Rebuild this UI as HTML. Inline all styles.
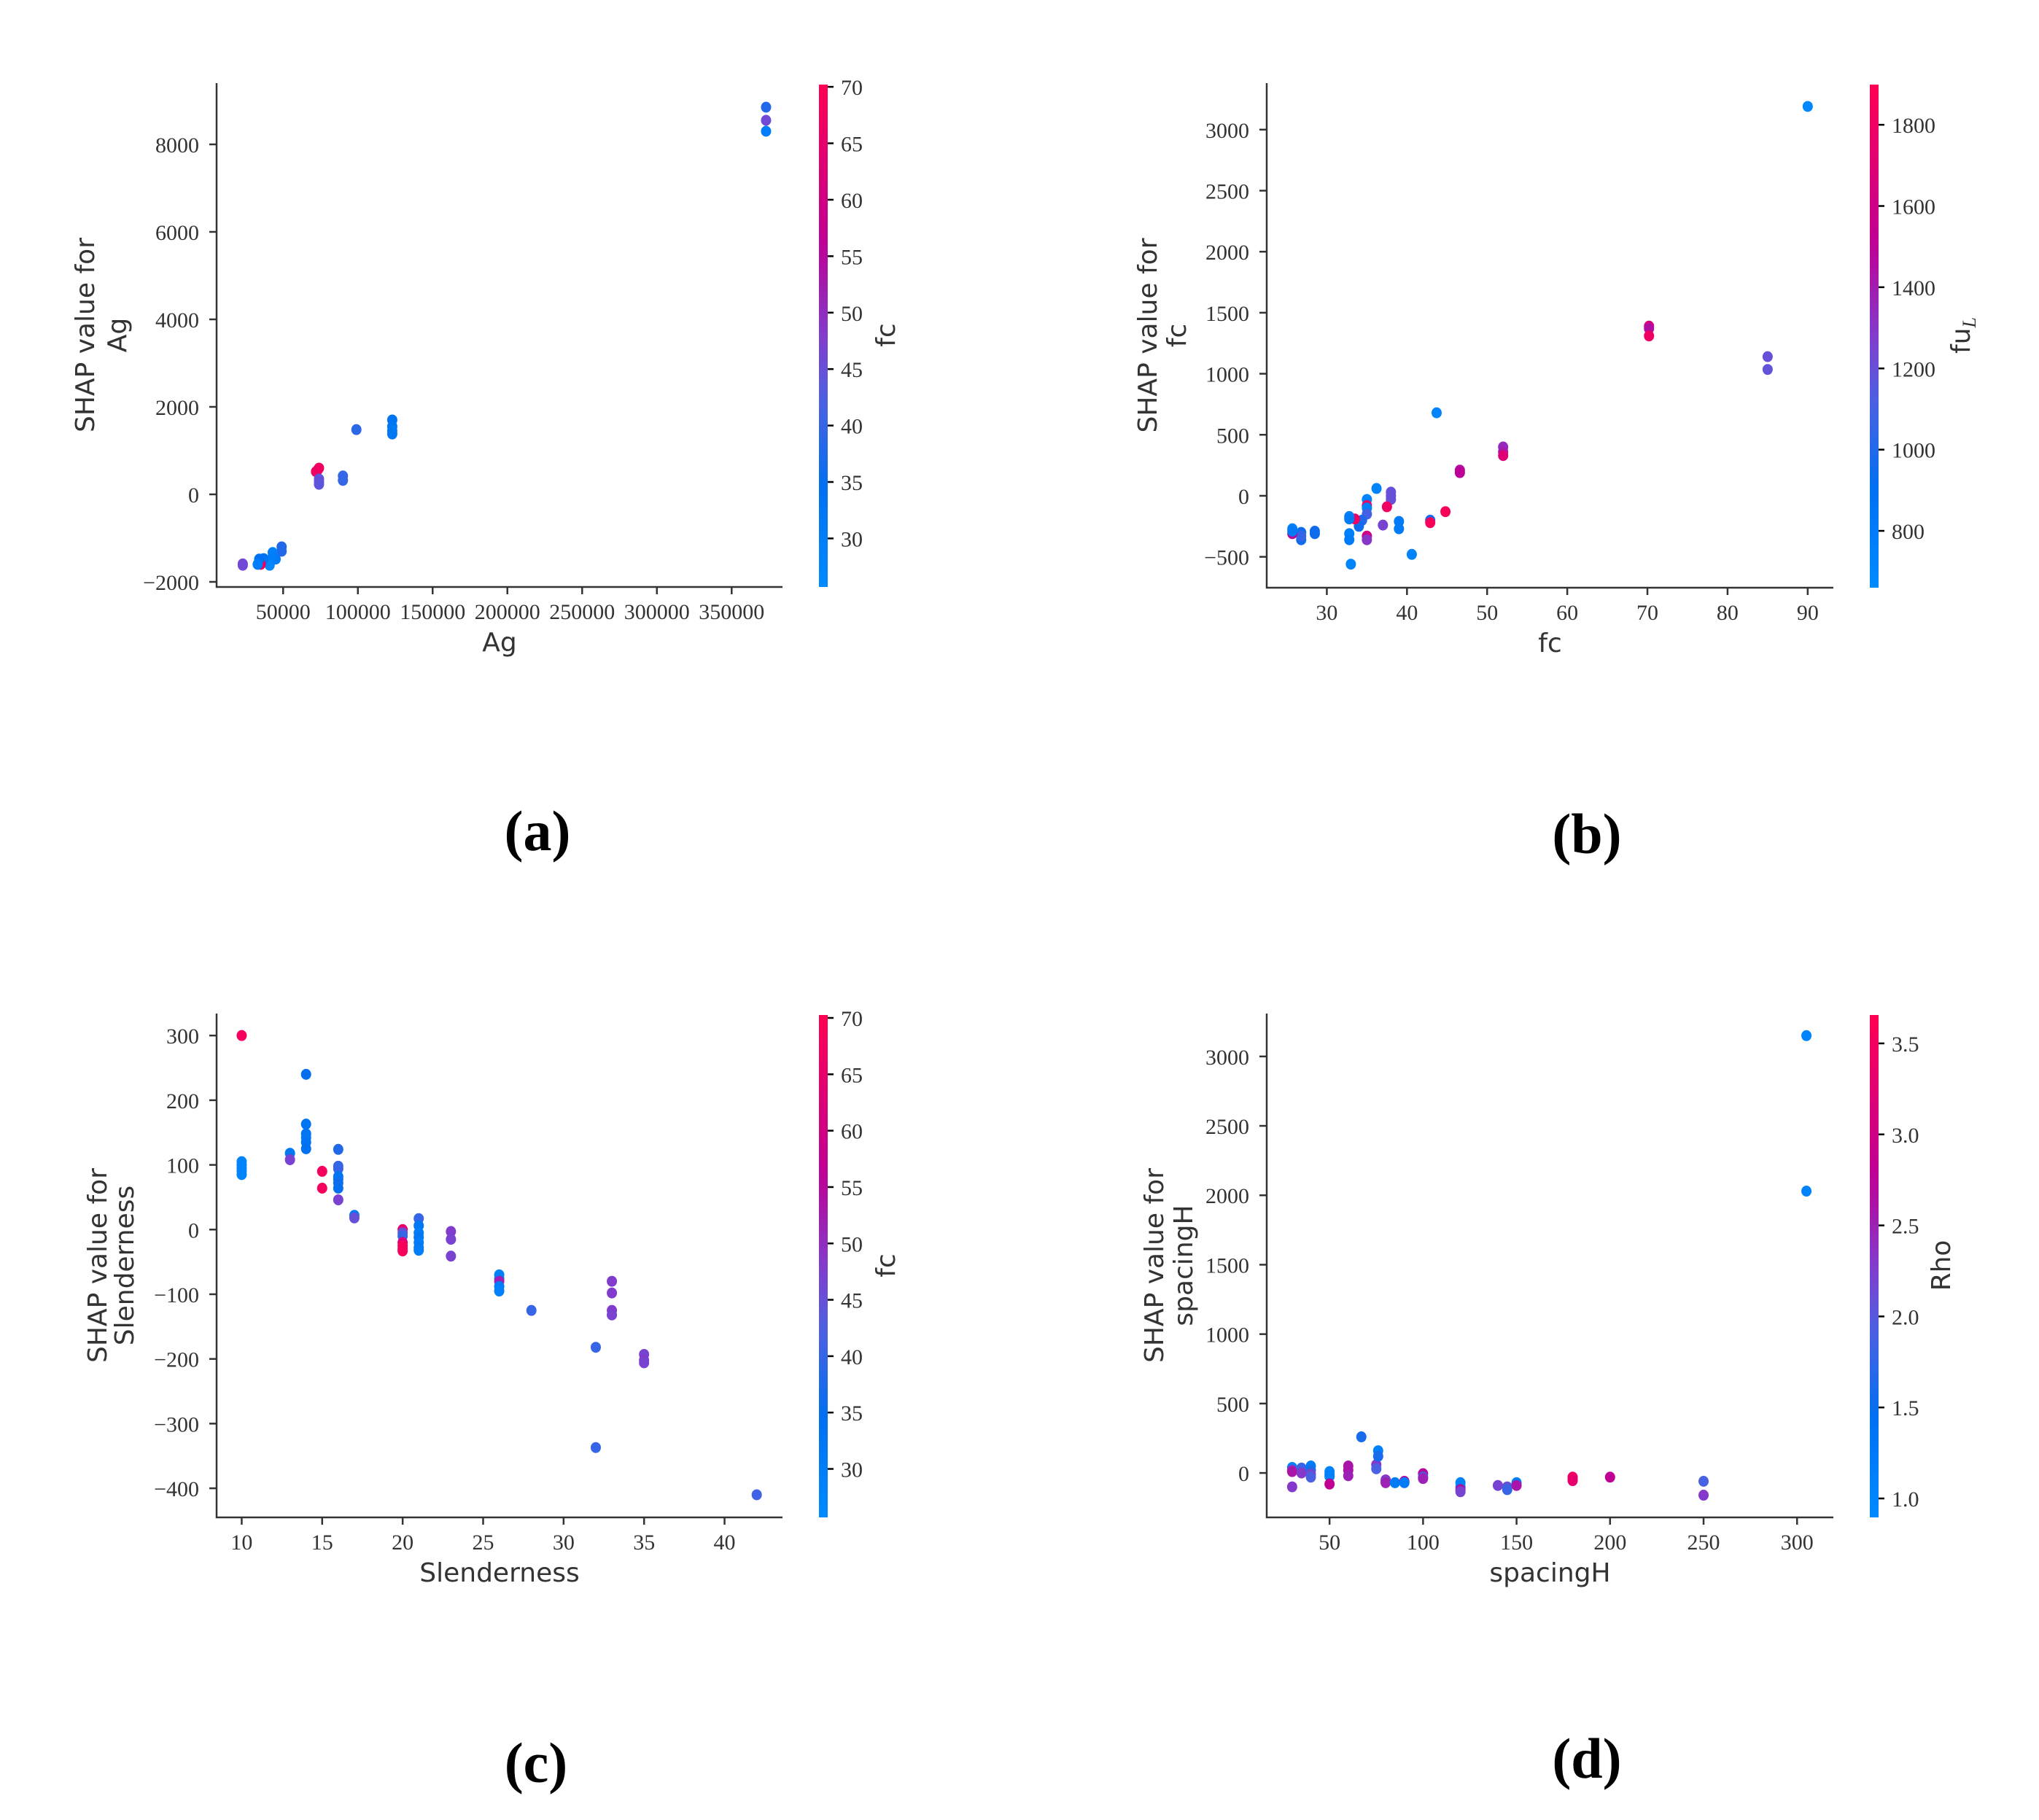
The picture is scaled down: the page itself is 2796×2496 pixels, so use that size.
<!DOCTYPE html>
<html><head><meta charset="utf-8"><style>
html,body{margin:0;padding:0;background:#fff;}
svg{display:block;}
.tk{font-family:"Liberation Serif",serif;font-size:30px;fill:#333;}
.lb{font-family:"DejaVu Sans","Liberation Sans",sans-serif;font-size:36px;fill:#333;}
.cap{font-family:"Liberation Serif",serif;font-size:78px;font-weight:bold;fill:#000;}
</style></head><body>
<svg id="fig" width="2796" height="2496" viewBox="0 0 2796 2496" xmlns="http://www.w3.org/2000/svg"></svg>
<script>
// ---- Panel (a): Ag ----
const aX=[373000,373000,373000,123000,123000,123000,123000,99000,90000,90000,73000,72000,74000,74000,74000,74000,49000,49000,45000,43000,43000,41000,37000,35000,34000,33000,23000,23000];
const aY=[8850,8550,8300,1700,1550,1450,1380,1480,420,320,550,520,600,350,280,230,-1200,-1300,-1480,-1330,-1430,-1620,-1470,-1600,-1480,-1600,-1590,-1620];
const aC=[38,46,30,33,32,31,32,39,40,40,68,66,67,44,45,44,38,38,31,29,30,27,33,67,34,30,46,46];
const aXTicks=[50000,100000,150000,200000,250000,300000,350000];
const aYTicks=[-2000,0,2000,4000,6000,8000];
const aCTicks=[30,35,40,45,50,55,60,65,70];
// ---- Panel (b): fc ----
const bX=[90,85,85,70.2,70.2,70.2,52,52,52,46.6,46.6,43.7,44.8,42.9,42.9,40.6,39,39,38,38,38,37.5,37,36.2,35,35,35,35,35,35,34.4,34,33.5,32.8,32.8,32.8,32.8,33,28.5,28.5,26.8,26.8,26.8,25.7,25.7,25.7];
const bY=[3190,1140,1035,1390,1370,1310,400,360,330,210,190,680,-130,-200,-220,-480,-210,-270,30,0,-30,-90,-240,60,-30,-80,-100,-150,-330,-360,-200,-250,-190,-170,-190,-310,-360,-560,-290,-310,-300,-360,-330,-270,-310,-290];
const bC=[700,1200,1180,1650,1450,1800,1350,1400,1700,1450,1500,720,1850,950,1850,720,800,800,1200,1200,1200,1800,1250,720,720,1800,750,1100,1600,1300,1000,950,1800,750,800,750,800,720,950,950,950,950,1050,750,1500,800];
const bXTicks=[30,40,50,60,70,80,90];
const bYTicks=[-500,0,500,1000,1500,2000,2500,3000];
const bCTicks=[800,1000,1200,1400,1600,1800];
// ---- Panel (c): Slenderness ----
const cX=[10,10,10,10,10,10,13,13,14,14,14,14,14,14,15,15,16,16,16,16,16,16,16,16,17,17,20,20,20,20,20,20,20,21,21,21,21,21,21,21,23,23,23,26,26,26,26,26,28,32,32,33,33,33,33,35,35,35,42];
const cY=[300,105,100,95,90,85,118,108,240,163,148,142,135,125,90,64,124,98,94,82,78,72,64,46,22,18,0,-5,-10,-20,-25,-30,-33,17,6,-5,-12,-20,-28,-32,-3,-15,-41,-70,-76,-80,-88,-95,-125,-182,-337,-80,-98,-125,-132,-193,-202,-206,-410];
const cC=[68,28,28,28,28,28,32,47,35,33,33,32,33,34,68,68,38,40,40,33,33,36,35,47,32,45,65,45,40,62,68,68,68,40,32,30,32,30,32,30,48,47,47,29,30,52,30,29,40,40,40,48,48,48,47,47,48,47,41];
const cXTicks=[10,15,20,25,30,35,40];
const cYTicks=[-400,-300,-200,-100,0,100,200,300];
const cCTicks=[30,35,40,45,50,55,60,65,70];
// ---- Panel (d): spacingH ----
const dX=[305,305,30,30,30,30,35,35,40,40,40,40,50,50,50,50,60,60,60,67,75,75,76,76,80,80,80,85,90,90,100,100,100,120,120,120,120,140,145,145,150,150,150,180,180,180,200,250,250];
const dY=[3150,2030,40,20,10,-100,35,0,50,20,-10,-30,10,-10,-25,-80,50,20,-20,260,60,30,160,120,-50,-60,-70,-70,-60,-70,-5,-30,-40,-70,-100,-120,-135,-90,-100,-120,-70,-80,-90,-30,-45,-55,-30,-60,-160];
const dC=[1.05,1.05,1.05,2.3,2.6,2.3,1.8,2.3,1.2,1.6,2.2,1.9,1.05,1.05,1.1,2.8,2.6,2.6,2.5,1.6,2.3,1.9,1.1,1.6,2.4,2.2,2.5,1.2,2.7,1.2,2.7,1.8,2.5,1.05,1.1,2.7,2.2,2.2,2.1,1.8,1.1,1.2,2.6,3.4,3.5,3.3,2.8,1.9,2.3];
const dXTicks=[50,100,150,200,250,300];
const dYTicks=[0,500,1000,1500,2000,2500,3000];
const dCTicks=[1.0,1.5,2.0,2.5,3.0,3.5];

const NS="http://www.w3.org/2000/svg";
const svg=document.getElementById('fig');
const stops=[[0,[0,138,255]],[0.2,[0,112,240]],[0.38,[80,95,225]],[0.5,[130,60,205]],[0.68,[190,0,150]],[1,[255,0,82]]];
function cmap(t){t=Math.max(0,Math.min(1,t));for(let i=1;i<stops.length;i++){if(t<=stops[i][0]){const a=stops[i-1],b=stops[i];const f=(t-a[0])/(b[0]-a[0]);return 'rgb('+a[1].map((v,k)=>Math.round(v+(b[1][k]-v)*f)).join(',')+')';}}return 'rgb(255,0,82)';}
function el(tag,attrs,parent){const e=document.createElementNS(NS,tag);for(const k in attrs)e.setAttribute(k,attrs[k]);(parent||svg).appendChild(e);return e;}
function fmt(v){return (v<0?'\u2212':'')+Math.abs(v).toString();}
function fmtC(v,dec){return v.toFixed(dec);}

function panel(p){
  const g=el('g',{});
  
  
  const L=p.L,R=p.R,T=p.T,B=p.B;
  const sx=v=>L+(v-p.xmin)/(p.xmax-p.xmin)*(R-L);
  const sy=v=>B-(v-p.ymin)/(p.ymax-p.ymin)*(B-T);
  const pg=el('g',{},g);
  
  
  for(let i=0;i<p.X.length;i++){
    const c=el('ellipse',{cx:sx(p.X[i]),cy:sy(p.Y[i]),rx:7,ry:7.5,fill:cmap((p.C[i]-p.vmin)/(p.vmax-p.vmin))},pg);
    
    
  }
  const ax=el('path',{d:`M${L},${T}V${B}H${R}`,fill:'none',stroke:'#333','stroke-width':2.5},g);
  
  
  p.xt.forEach(v=>{const x=sx(v);el('line',{x1:x,y1:B,x2:x,y2:B+10,stroke:'#333','stroke-width':2.5},g);
    const t=el('text',{x:x,y:B+44,'text-anchor':'middle',class:'tk'},g);t.textContent=fmt(v);
    
    });
  p.yt.forEach(v=>{const y=sy(v);el('line',{x1:L-10,y1:y,x2:L,y2:y,stroke:'#333','stroke-width':2.5},g);
    const t=el('text',{x:L-24,y:y+11,'text-anchor':'end',class:'tk'},g);t.textContent=fmt(v);
    
    });
  const xl=el('text',{x:(L+R)/2,y:B+88,'text-anchor':'middle',class:'lb'},g);xl.textContent=p.xlabel;
  
  
  const cy=(T+B)/2;
  const y1=el('text',{x:0,y:0,'text-anchor':'middle',class:'lb',transform:`translate(${L-p.yl1+13},${cy}) rotate(-90)`},g);y1.textContent='SHAP value for';
  
  
  const y2=el('text',{x:0,y:0,'text-anchor':'middle',class:'lb',transform:`translate(${L-p.yl2+13},${cy}) rotate(-90)`},g);y2.textContent=p.ylabel;
  
  
  const cb=el('g',{},g);
  
  
  const gid='grad'+p.id;
  const lg=el('linearGradient',{id:gid,x1:0,y1:1,x2:0,y2:0},el('defs',{},cb));
  for(let i=0;i<=20;i++)el('stop',{offset:i/20,'stop-color':cmap(i/20)},lg);
  const cT=p.T+2;
  el('rect',{x:p.cbx,y:cT,width:12,height:B-cT,fill:`url(#${gid})`},cb);
  const cyv=v=>B-(v-p.vmin)/(p.vmax-p.vmin)*(B-cT);
  p.ct.forEach(v=>{const y=cyv(v);el('line',{x1:p.cbx+12,y1:y,x2:p.cbx+20,y2:y,stroke:'#000','stroke-width':2.5},cb);
    const t=el('text',{x:p.cbx+30,y:y+11,class:'tk'},cb);t.textContent=fmtC(v,p.cdec);
    
    });
  const cl=el('text',{x:0,y:0,'text-anchor':'middle',class:'lb',transform:`translate(${p.clx+13},${cy}) rotate(-90)`},cb);
  if(p.clabel==='fuL'){cl.innerHTML='fu<tspan dy="8" font-size="26" font-style="italic" font-family="Liberation Serif">L</tspan>';}
  else cl.textContent=p.clabel;
  
  
  const cap=el('text',{x:p.capx,y:p.capy+26,'text-anchor':'middle',class:'cap'},g);cap.textContent=p.cap;
  
  
}

panel({id:'a',L:297,R:1073,T:114,B:805,xmin:5500,xmax:384000,ymin:-2117,ymax:9400,X:aX,Y:aY,C:aC,vmin:25.7,vmax:70.2,
  xt:aXTicks,yt:aYTicks,ct:aCTicks,cdec:0,xlabel:'Ag',ylabel:'Ag',yl1:181,yl2:137,cbx:1123,clx:1214,clabel:'fc',cap:'(a)',capx:737,capy:1140});
panel({id:'b',L:1737,R:2514,T:114,B:806,xmin:22.5,xmax:93.2,ymin:-753,ymax:3381,X:bX,Y:bY,C:bC,vmin:660,vmax:1899,
  xt:bXTicks,yt:bYTicks,ct:bCTicks,cdec:0,xlabel:'fc',ylabel:'fc',yl1:164,yl2:124,cbx:2564,clx:2688,clabel:'fuL',cap:'(b)',capx:2176,capy:1144});
panel({id:'c',L:297,R:1073,T:1390,B:2081,xmin:8.44,xmax:43.6,ymin:-445,ymax:334,X:cX,Y:cY,C:cC,vmin:25.7,vmax:70.26,
  xt:cXTicks,yt:cYTicks,ct:cCTicks,cdec:0,xlabel:'Slenderness',ylabel:'Slenderness',yl1:164,yl2:127,cbx:1123,clx:1214,clabel:'fc',cap:'(c)',capx:735,capy:2418});
panel({id:'d',L:1737,R:2514,T:1390,B:2081,xmin:16.4,xmax:319.4,ymin:-320,ymax:3309,X:dX,Y:dY,C:dC,vmin:0.896,vmax:3.656,
  xt:dXTicks,yt:dYTicks,ct:dCTicks,cdec:1,xlabel:'spacingH',ylabel:'spacingH',yl1:155,yl2:115,cbx:2564,clx:2661,clabel:'Rho',cap:'(d)',capx:2176,capy:2412});
</script>
</body></html>
